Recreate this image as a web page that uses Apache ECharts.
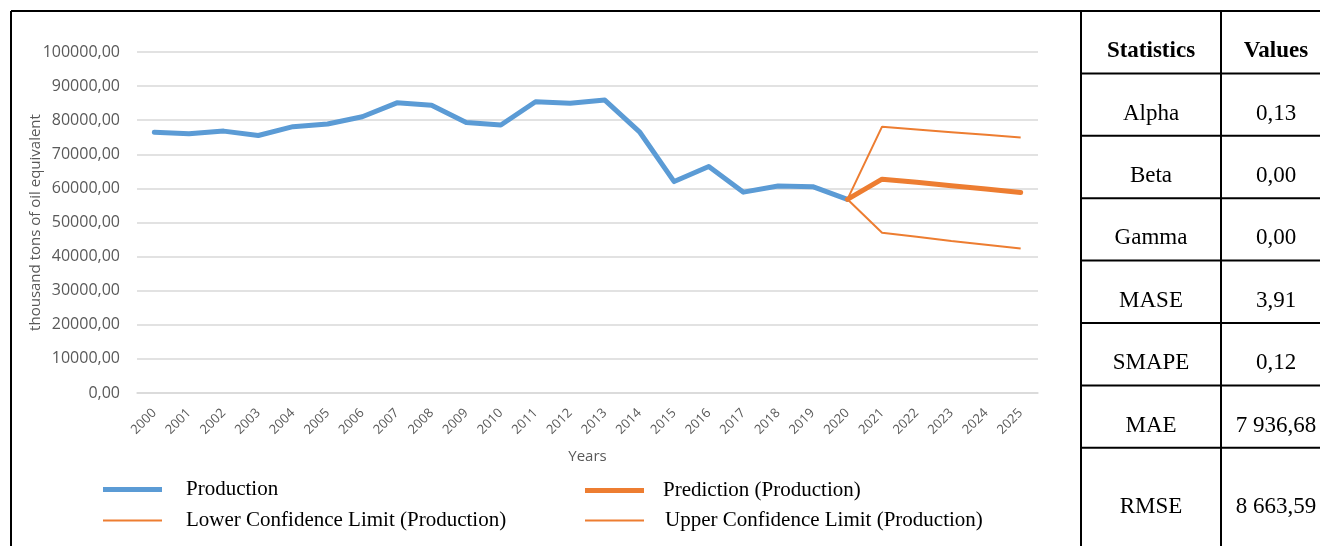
<!DOCTYPE html>
<html>
<head>
<meta charset="utf-8">
<script src="https://cdn.jsdelivr.net/npm/echarts@6/dist/echarts.min.js"></script>
<style>
  html, body { margin: 0; padding: 0; background: #ffffff; }
  #chart { width: 1320px; height: 546px; }
</style>
</head>
<body>
<div id="chart"></div>
<script>
// Years on the category axis
const years = ['2000','2001','2002','2003','2004','2005','2006','2007','2008','2009','2010','2011','2012','2013','2014','2015','2016','2017','2018','2019','2020','2021','2022','2023','2024','2025'];

// Observed production (thousand tons of oil equivalent)
const production = [76500, 76000, 76800, 75500, 78100, 78900, 81000, 85100, 84400, 79300, 78600, 85400, 85000, 85900, 76600, 62000, 66400, 58900, 60700, 60500, 56800, null, null, null, null, null];

// Forecast and its confidence band, joined to the last observed year
const prediction = [null, null, null, null, null, null, null, null, null, null, null, null, null, null, null, null, null, null, null, null, 56800, 62700, 61800, 60800, 59800, 58800];
const lowerLimit = [null, null, null, null, null, null, null, null, null, null, null, null, null, null, null, null, null, null, null, null, 56800, 47000, 45800, 44600, 43500, 42400];
const upperLimit = [null, null, null, null, null, null, null, null, null, null, null, null, null, null, null, null, null, null, null, null, 56800, 78100, 77300, 76500, 75700, 74900];

// Series names
const seriesNames = ['Production', 'Prediction (Production)', 'Lower Confidence Limit (Production)', 'Upper Confidence Limit (Production)'];

// Model statistics table
const tableHeader = ['Statistics', 'Values'];
const statNames = ['Alpha', 'Beta', 'Gamma', 'MASE', 'SMAPE', 'MAE', 'RMSE'];
const statValues = ['0,13', '0,00', '0,00', '3,91', '0,12', '7 936,68', '8 663,59'];

const BLUE = '#5B9BD5';
const ORANGE = '#ED7D31';
const AXIS_TEXT = '#595959';
const SERIF = '"Liberation Serif", "Times New Roman", serif';
const SANS = '"Open Sans", "Noto Sans", sans-serif';

const chart = echarts.init(document.getElementById('chart'), null, { renderer: 'canvas' });

// Table geometry: uniform rows, the last one runs off the bottom edge
const tLeft = 1081, tMid = 1221, tRight = 1340, tTop = 11, rowH = 62.4, lastRowH = 100;
const rows = [tableHeader].concat(statNames.map((n, i) => [n, statValues[i]]));
const tableGraphics = [];
const lineStyle = { stroke: '#000', lineWidth: 2 };
rows.forEach((r, i) => {
  const y = tTop + i * rowH;
  tableGraphics.push({ type: 'line', shape: { x1: tLeft, y1: y, x2: tRight, y2: y }, style: lineStyle });
  const h = i === rows.length - 1 ? lastRowH : rowH;
  const cy = y + h / 2 + 9;
  const font = (i === 0 ? 'bold ' : '') + '23px ' + SERIF;
  tableGraphics.push({ type: 'text', x: (tLeft + tMid) / 2, y: cy, style: { text: r[0], fill: '#000', font: font, textAlign: 'center', textVerticalAlign: 'middle' } });
  tableGraphics.push({ type: 'text', x: 1276, y: cy, style: { text: r[1], fill: '#000', font: font, textAlign: 'center', textVerticalAlign: 'middle' } });
});
tableGraphics.push({ type: 'line', shape: { x1: tLeft, y1: tTop, x2: tLeft, y2: 560 }, style: lineStyle });
tableGraphics.push({ type: 'line', shape: { x1: tMid, y1: tTop, x2: tMid, y2: 560 }, style: lineStyle });
// Chart frame (top and left edges)
tableGraphics.push({ type: 'line', shape: { x1: 11, y1: tTop, x2: tLeft, y2: tTop }, style: lineStyle });
tableGraphics.push({ type: 'line', shape: { x1: 11, y1: tTop, x2: 11, y2: 560 }, style: lineStyle });

function legendAt(name, left, top, thick, textGap) {
  return {
    data: [name],
    left: left,
    top: top,
    padding: 0,
    icon: 'rect',
    itemWidth: 59,
    itemHeight: thick ? 5 : 2,
    selectedMode: false,
    textStyle: { fontFamily: SERIF, fontSize: 21, color: '#000', padding: [0, 0, 0, textGap] }
  };
}

const option = {
  animation: false,
  backgroundColor: '#ffffff',
  grid: { left: 137, right: 282, top: 52, bottom: 153, containLabel: false },
  xAxis: {
    type: 'category',
    data: years,
    boundaryGap: true,
    name: 'Years',
    nameLocation: 'middle',
    nameGap: 56,
    nameMoveOverlap: false,
    nameTextStyle: { fontFamily: SANS, fontSize: 15, color: AXIS_TEXT },
    axisLine: { show: true, lineStyle: { color: '#D9D9D9', width: 1.5 } },
    axisTick: { show: false },
    axisLabel: { rotate: 45, interval: 0, margin: 18, fontFamily: SANS, fontSize: 13, color: AXIS_TEXT }
  },
  yAxis: {
    type: 'value',
    min: 0,
    max: 100000,
    interval: 10000,
    name: 'thousand tons of oil equivalent',
    nameLocation: 'middle',
    nameRotate: 90,
    nameGap: 94,
    nameMoveOverlap: false,
    nameTextStyle: { fontFamily: SANS, fontSize: 15, color: AXIS_TEXT },
    axisLine: { show: false },
    axisTick: { show: false },
    splitLine: { lineStyle: { color: '#D9D9D9', width: 1.5 } },
    axisLabel: {
      margin: 17,
      fontFamily: SANS,
      fontSize: 16,
      color: AXIS_TEXT,
      formatter: v => v.toFixed(2).replace('.', ',')
    }
  },
  legend: [
    legendAt(seriesNames[0], 103, 479, true, 19),
    legendAt(seriesNames[1], 585, 480, true, 14),
    legendAt(seriesNames[2], 103, 510, false, 19),
    legendAt(seriesNames[3], 585, 510, false, 16)
  ],
  graphic: tableGraphics,
  series: [
    { name: seriesNames[0], type: 'line', data: production, symbol: 'none', color: BLUE, lineStyle: { width: 5, color: BLUE, join: 'round', cap: 'round' } },
    { name: seriesNames[1], type: 'line', data: prediction, symbol: 'none', color: ORANGE, lineStyle: { width: 5, color: ORANGE, join: 'round', cap: 'round' } },
    { name: seriesNames[2], type: 'line', data: lowerLimit, symbol: 'none', color: ORANGE, lineStyle: { width: 2, color: ORANGE } },
    { name: seriesNames[3], type: 'line', data: upperLimit, symbol: 'none', color: ORANGE, lineStyle: { width: 2, color: ORANGE } }
  ]
};

chart.setOption(option);
</script>
</body>
</html>
